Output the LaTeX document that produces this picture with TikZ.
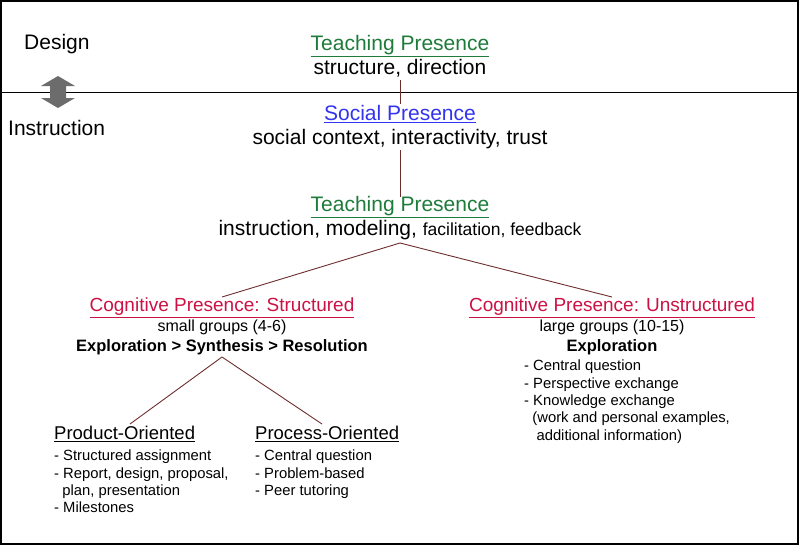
\documentclass[tikz,border=0pt]{standalone}
\usepackage{fontspec}
\setmainfont{Liberation Sans}
\definecolor{tgreen}{HTML}{1E7B3A}
\definecolor{sblue}{HTML}{3333EE}
\definecolor{ccrim}{HTML}{CC1144}
\definecolor{lbrown}{HTML}{6E2E2E}
\begin{document}
\begin{tikzpicture}[x=1pt,y=-1pt,
  every node/.style={inner sep=0pt,align=center},
  big/.style={font=\fontsize{21}{24.5}\selectfont},
  mid/.style={font=\fontsize{19}{20}\selectfont},
  lst/.style={font=\fontsize{14.8}{17.3}\selectfont,align=left,anchor=north west},
  hd/.style={font=\fontsize{18.5}{20}\selectfont,anchor=north west},
  link/.style={draw=lbrown,line width=0.9pt}]
\useasboundingbox (0,0) rectangle (800,546);
\draw[line width=1.2pt] (1,1) rectangle (798,544);
\draw[line width=1pt] (1,92) -- (798,92);
\node[big,anchor=west] (design) at (24,44) {Design};
\node[big,anchor=west] (instr) at (8,128) {Instruction};
\fill[gray!85!black] (58,76) -- (75,86) -- (66,86) -- (66,98) -- (75,98) -- (58,108) -- (41,98) -- (50,98) -- (50,86) -- (41,86) -- cycle;
\node[big] (tp1) at (400,56) {\textcolor{tgreen}{\underline{Teaching Presence}}\\structure, direction};
\node[big] (sp) at (400,127) {\textcolor{sblue}{\underline{Social Presence}}\\social context, interactivity, trust};
\node[big] (tp2) at (400,218) {\textcolor{tgreen}{\underline{Teaching Presence}}\\instruction, modeling, {\fontsize{17.5}{20}\selectfont facilitation, feedback}};
\node[mid,anchor=north] (cs) at (222,298) {\textcolor{ccrim}{\underline{Cognitive Presence: Structured}}\\{\fontsize{16}{20}\selectfont small groups (4-6)}\\{\fontsize{16.5}{20}\selectfont\bfseries Exploration > Synthesis > Resolution}};
\node[mid,anchor=north] (cu) at (612,298) {\textcolor{ccrim}{\underline{Cognitive Presence: Unstructured}}\\{\fontsize{16}{20}\selectfont large groups (10-15)}\\{\fontsize{16.5}{20}\selectfont\bfseries Exploration}};
\node[lst] (cul) at (524,360) {- Central question\\- Perspective exchange\\- Knowledge exchange\\\ \ (work and personal examples,\\\ \ \ additional information)};
\node[hd] (po) at (54,426) {\underline{Product-Oriented}};
\node[lst] (pol) at (54,450) {- Structured assignment\\- Report, design, proposal,\\\ \ plan, presentation\\- Milestones};
\node[hd] (pr) at (255,426) {\underline{Process-Oriented}};
\node[lst] (prl) at (255,450) {- Central question\\- Problem-based\\- Peer tutoring};
\coordinate (a1) at (400,80); \coordinate (a2) at (400,104);
\draw[link] (a1) -- (a2);
\coordinate (b1) at (400,150); \coordinate (b2) at (400,197);
\draw[link] (b1) -- (b2);
\coordinate (t2) at (400,243);
\draw[link] (t2) -- (222,297);
\draw[link] (t2) -- (612,297);
\coordinate (s1) at (222,357);
\draw[link] (s1) -- (130,424);
\draw[link] (s1) -- (322,424);
\end{tikzpicture}
\end{document}
